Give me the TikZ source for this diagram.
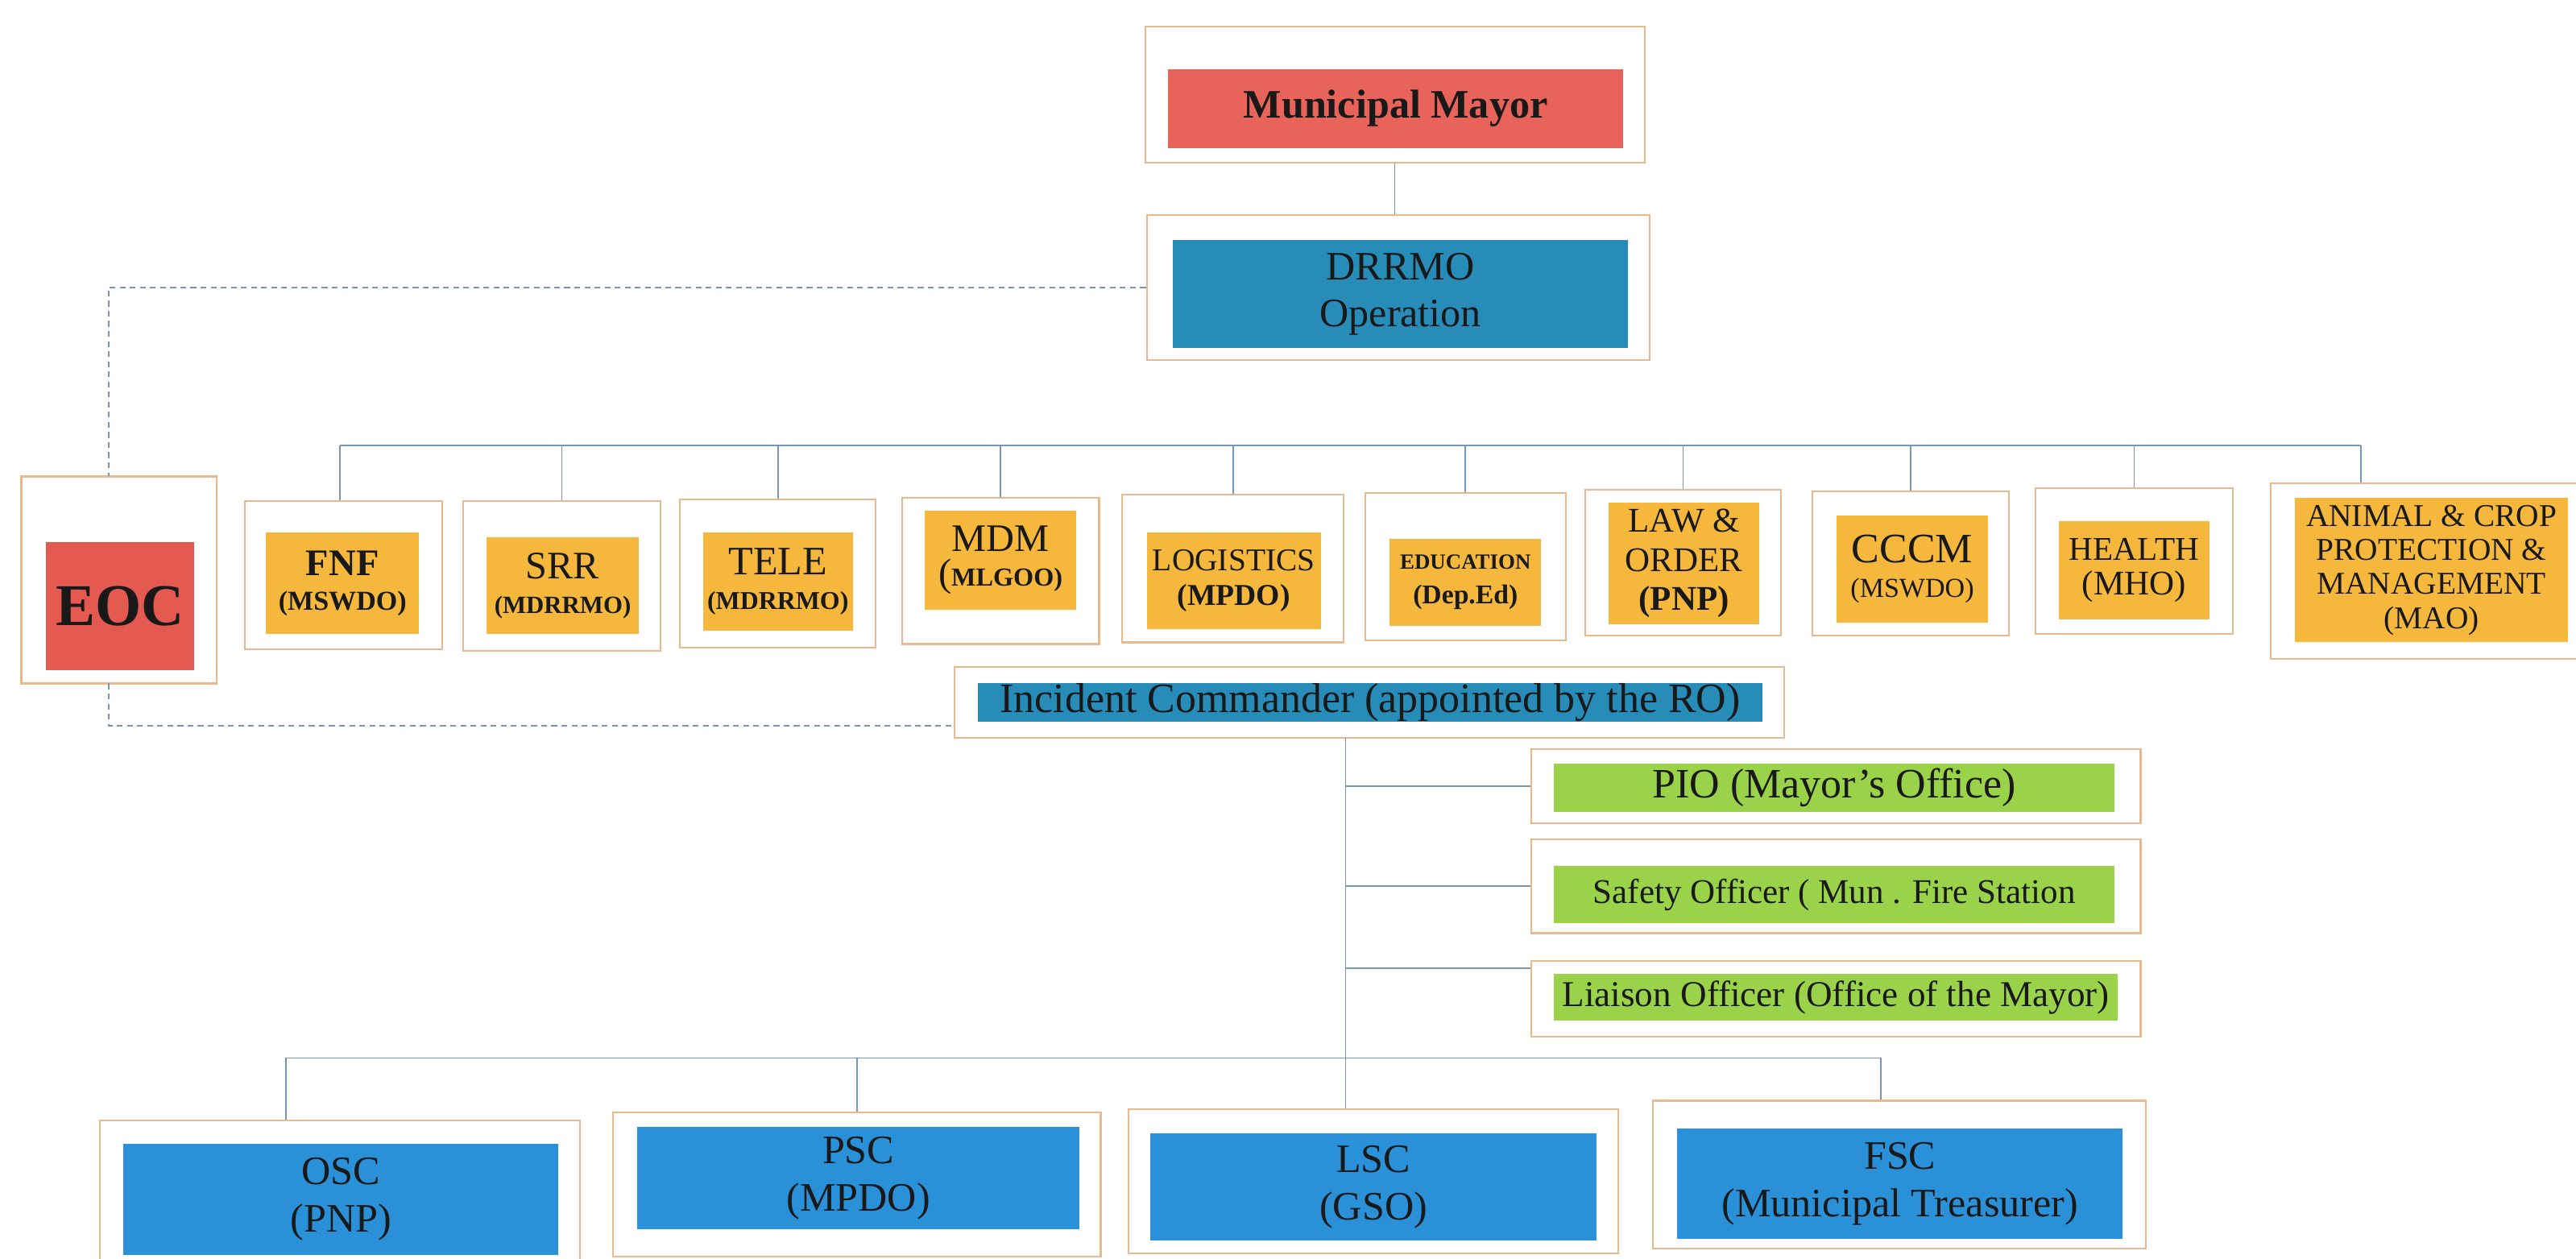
\documentclass[tikz,border=0pt]{standalone}
\usepackage{fontspec}
\setmainfont{Liberation Serif}
\usetikzlibrary{fit,calc}

\definecolor{framecol}{HTML}{E8B98C}
\definecolor{linkcol}{HTML}{7896B4}
\definecolor{mayorred}{HTML}{E8645A}
\definecolor{eocred}{HTML}{E45A50}
\definecolor{drrmoblue}{HTML}{288CB9}
\definecolor{clusterorange}{HTML}{F6B83C}
\definecolor{staffgreen}{HTML}{9AD24A}
\definecolor{sectionblue}{HTML}{2A91D8}

\begin{document}
\begin{tikzpicture}[x=0.02cm,y=-0.02cm]
\tikzset{frame/.style = {draw=framecol, line width=0.6pt, inner sep=0pt},
  unit/.style = {inner sep=0pt, align=center, text=black!90},
  box/.style 2 args = {minimum width=#1*0.02cm, minimum height=#2*0.02cm},
  link/.style = {draw=linkcol, line width=0.5pt},
  dlink/.style = {link, dash pattern=on 2pt off 1.5pt}}
\useasboundingbox (0,0) rectangle (1568,766);

% top of the chart
\node[frame, fit={(697,16) (1001,99)}] (f-mayor) {};
\node[unit, fill=mayorred, box={277}{48}, font=\fontsize{14}{16}\selectfont\bfseries] (mayor) at (849.5,66) {Municipal Mayor};
\node[frame, fit={(698,131) (1004,219)}] (f-drrmo) {};
\node[unit, fill=drrmoblue, box={277}{66}, font=\fontsize{14}{16}\selectfont] (drrmo) at (852.5,179) {DRRMO\\Operation};

% clusters
\node[frame, fit={(13,290) (132,416)}] (f-eoc) {};
\node[unit, fill=eocred, box={90}{78}, font=\fontsize{20.5}{22}\selectfont\bfseries] (eoc) at (73,369) {EOC};
\node[frame, fit={(149,305) (269,395)}] (f-fnf) {};
\node[unit, fill=clusterorange, box={93}{62}, font=\bfseries] (fnf) at (208.5,355)
  {{\fontsize{13}{13}\selectfont FNF}\\{\fontsize{9.5}{13}\selectfont (MSWDO)}};
\node[frame, fit={(282,305) (402,396)}] (f-srr) {};
\node[unit, fill=clusterorange, box={93}{59}] (srr) at (342.5,356.5)
  {{\fontsize{13.5}{13}\selectfont SRR}\\{\fontsize{8.6}{13}\selectfont\bfseries (MDRRMO)}};
\node[frame, fit={(414,304) (533,394)}] (f-tele) {};
\node[unit, fill=clusterorange, box={91}{60}] (tele) at (473.5,354)
  {{\fontsize{14}{14}\selectfont TELE}\\{\fontsize{8.9}{13}\selectfont\bfseries (MDRRMO)}};
\node[frame, fit={(549,303) (669,392)}] (f-mdm) {};
\node[unit, fill=clusterorange, box={92}{60}] (mdm) at (609,341)
  {{\fontsize{13.5}{14}\selectfont MDM}\\{\fontsize{13.5}{14}\selectfont (}{\fontsize{9}{14}\selectfont\bfseries MLGOO)}};
\node[frame, fit={(683,301) (818,391)}] (f-logi) {};
\node[unit, fill=clusterorange, box={106}{59}] (logi) at (751,353.5)
  {{\fontsize{11}{13}\selectfont LOGISTICS}\\{\fontsize{10.5}{14}\selectfont\bfseries (MPDO)}};
\node[frame, fit={(831,300) (953,390)}] (f-educ) {};
\node[unit, fill=clusterorange, box={92}{53}, font=\bfseries] (educ) at (892,354.5)
  {{\fontsize{7.5}{10}\selectfont EDUCATION}\\{\fontsize{9.4}{12}\selectfont (Dep.Ed)}};
\node[frame, fit={(965,298) (1084,387)}] (f-law) {};
\node[unit, fill=clusterorange, box={92}{74}, font=\fontsize{12}{13.5}\selectfont] (law) at (1025,343)
  {LAW \&\\ORDER\\\textbf{(PNP)}};
\node[frame, fit={(1103,299) (1223,387)}] (f-cccm) {};
\node[unit, fill=clusterorange, box={92}{65}] (cccm) at (1164,346.5)
  {{\fontsize{14.5}{15}\selectfont CCCM}\\{\fontsize{9.5}{15}\selectfont (MSWDO)}};
\node[frame, fit={(1239,297) (1359,386)}] (f-health) {};
\node[unit, fill=clusterorange, box={92}{60}] (health) at (1299,347)
  {{\fontsize{11.5}{13}\selectfont HEALTH}\\{\fontsize{12}{14}\selectfont (MHO)}};
\node[frame, fit={(1382,294) (1570,401)}] (f-animal) {};
\node[unit, fill=clusterorange, box={166}{88}, font=\fontsize{11}{11.8}\selectfont] (animal) at (1480,347)
  {ANIMAL \& CROP\\PROTECTION \&\\MANAGEMENT\\(MAO)};

% incident command
\node[frame, fit={(581,406) (1086,449)}] (f-ic) {};
\node[unit, fill=drrmoblue, box={478}{23}, font=\fontsize{14.5}{14.5}\selectfont] (ic) at (834,427.5) {Incident Commander (appointed by the RO)};
\node[frame, fit={(932,456) (1303,501)}] (f-pio) {};
\node[unit, fill=staffgreen, box={341}{29}, font=\fontsize{14.5}{15}\selectfont] (pio) at (1116.5,479.5) {PIO (Mayor’s Office)};
\node[frame, fit={(932,511) (1303,568)}] (f-safety) {};
\node[unit, fill=staffgreen, box={341}{35}, font=\fontsize{12}{13}\selectfont] (safety) at (1116.5,544.5) {Safety Officer ( Mun . Fire Station};
\node[frame, fit={(932,585) (1303,631)}] (f-liaison) {};
\node[unit, fill=staffgreen, box={343}{28}, font=\fontsize{12.6}{13}\selectfont] (liaison) at (1117.5,607) {Liaison Officer (Office of the Mayor)};

% sections
\node[frame, fit={(61,682) (353,775)}] (f-osc) {};
\node[unit, fill=sectionblue, box={265}{68}, font=\fontsize{14}{16.5}\selectfont] (osc) at (207.5,730) {OSC\\(PNP)};
\node[frame, fit={(373,677) (670,765)}] (f-psc) {};
\node[unit, fill=sectionblue, box={269}{62}, font=\fontsize{14}{16.5}\selectfont] (psc) at (522.5,717) {PSC\\(MPDO)};
\node[frame, fit={(687,675) (985,763)}] (f-lsc) {};
\node[unit, fill=sectionblue, box={272}{65}, font=\fontsize{14}{16.5}\selectfont] (lsc) at (836,722.5) {LSC\\(GSO)};
\node[frame, fit={(1006,670) (1306,760)}] (f-fsc) {};
\node[unit, fill=sectionblue, box={271}{67}, font=\fontsize{14}{16.5}\selectfont] (fsc) at (1156.5,720.5) {FSC\\(Municipal Treasurer)};

% links
\draw[link] (f-mayor.south) -- (f-mayor.south |- f-drrmo.north);
\coordinate (eocdrop) at (66,290);
\draw[dlink] (f-drrmo.west) -| (eocdrop);
\coordinate (eocrise) at (66,416);
\draw[dlink] (eocrise) |- ($(f-ic.south west)!0.18!(f-ic.north west)$);

\coordinate (busL) at (207,271);
\coordinate (busR) at (1437,271);
\draw[link] (busL) -- (busR);
\draw[link] (busL) -- (busL |- f-fnf.north);
\draw[link] (busR) -- (busR |- f-animal.north);
\foreach \n in {srr,tele,mdm,logi,educ,law,cccm,health}
  \draw[link] (f-\n.north) -- (f-\n.north |- busL);

\coordinate (trunk) at (819,449);
\coordinate (liaisonstub) at ($(f-liaison.north west)!0.1!(f-liaison.south west)$);
\draw[link] (trunk) -- (trunk |- f-lsc.north);
\draw[link] (trunk |- f-pio.west) -- (f-pio.west);
\draw[link] (trunk |- f-safety.west) -- (f-safety.west);
\draw[link] (trunk |- liaisonstub) -- (liaisonstub);

\coordinate (lowL) at (174,644);
\coordinate (lowR) at (1145,644);
\draw[link] (lowL) -- (lowR);
\draw[link] (lowL) -- (lowL |- f-osc.north);
\draw[link] (lowR) -- (lowR |- f-fsc.north);
\draw[link] (f-psc.north) -- (f-psc.north |- lowL);
\end{tikzpicture}
\end{document}
